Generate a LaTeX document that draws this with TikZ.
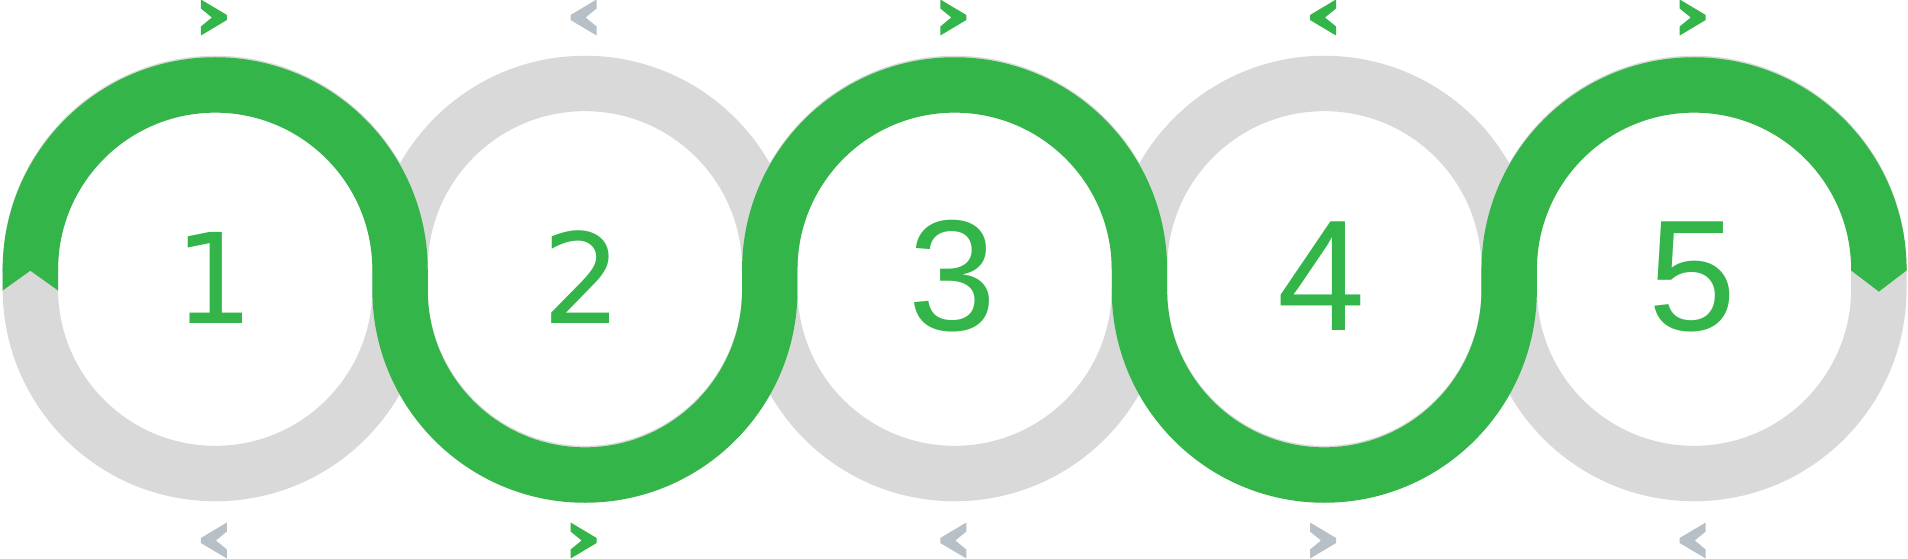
\documentclass[tikz,border=0pt]{standalone}
\usepackage{fontspec}
\newfontfamily\smallfont{DejaVu Sans}
\newfontfamily\bigfont{Liberation Sans}
\definecolor{grn}{RGB}{52,181,74}
\definecolor{ringgrey}{RGB}{217,217,217}
\definecolor{chevgrey}{RGB}{183,191,199}
\tikzset{
  ringpath/.style={draw=ringgrey,line width=55.4pt},
  bandpath/.style={draw=grn,line width=55.4pt},
  chevr/.pic={\fill (-13,18) -- (13,2.5) -- (13,-2.5) -- (-13,-18) -- (-13,-9) -- (-2,0) -- (-13,9) -- cycle;},
  smalldigit/.style={text=grn,anchor=base,inner sep=0pt,font=\smallfont\fontsize{125}{125}\selectfont},
  bigdigit/.style={text=grn,anchor=base,inner sep=0pt,font=\bigfont\fontsize{158}{158}\selectfont}
}
\begin{document}
\begin{tikzpicture}[x=1pt,y=1pt]
\useasboundingbox (0,0) rectangle (1908,558);
\fill[white] (0,0) rectangle (1908,558);
% grey rings
\foreach \c in {215.2,584.9,954.6,1324.3,1694.0}{
  \draw[ringpath] ({\c+184.85},269.3) -- ({\c+184.85},289.7)
    arc[start angle=0,end angle=180,radius=184.85]
    -- ({\c-184.85},269.3)
    arc[start angle=180,end angle=360,radius=184.85] -- cycle;
}
% green band
\draw[bandpath] (30.35,287.3) -- (30.35,288.2)
  arc[start angle=180,end angle=0,radius=184.85]
  -- (400.05,267.8) arc[start angle=180,end angle=360,radius=184.85]
  -- (769.75,288.2) arc[start angle=180,end angle=0,radius=184.85]
  -- (1139.45,267.8) arc[start angle=180,end angle=360,radius=184.85]
  -- (1509.15,288.2) arc[start angle=180,end angle=0,radius=184.85];
% notched tail
\fill[grn] (2.65,267.5) -- (2.65,289.3) -- (58.05,289.3) -- (58.05,267.5) -- (30.35,287.3) -- cycle;
% pointed head
\fill[grn] (1851.15,290.2) -- (1906.55,290.2) -- (1906.55,287.5) -- (1878.85,266.4) -- (1851.15,287.5) -- cycle;
% top chevrons
\pic[color=grn] at (213.9,540.5) {chevr};
\pic[color=chevgrey,xscale=-1] at (583.6,540.5) {chevr};
\pic[color=grn] at (953.3,540.5) {chevr};
\pic[color=grn,xscale=-1] at (1323.0,540.5) {chevr};
\pic[color=grn] at (1692.7,540.5) {chevr};
% bottom chevrons
\pic[color=chevgrey,xscale=-1] at (213.9,17.5) {chevr};
\pic[color=grn] at (583.6,17.5) {chevr};
\pic[color=chevgrey,xscale=-1] at (953.3,17.5) {chevr};
\pic[color=chevgrey] at (1323.0,17.5) {chevr};
\pic[color=chevgrey,xscale=-1] at (1692.7,17.5) {chevr};
% digits
\node[smalldigit] (d1) at (214.5,234.5) {1};
\node[smalldigit] (d2) at (582.6,234.5) {2};
\node[bigdigit] (d3) at (952.5,227.3) {3};
\node[bigdigit] (d4) at (1321.7,227.3) {4};
\node[bigdigit] (d5) at (1692.3,227.3) {5};
\end{tikzpicture}
\end{document}
